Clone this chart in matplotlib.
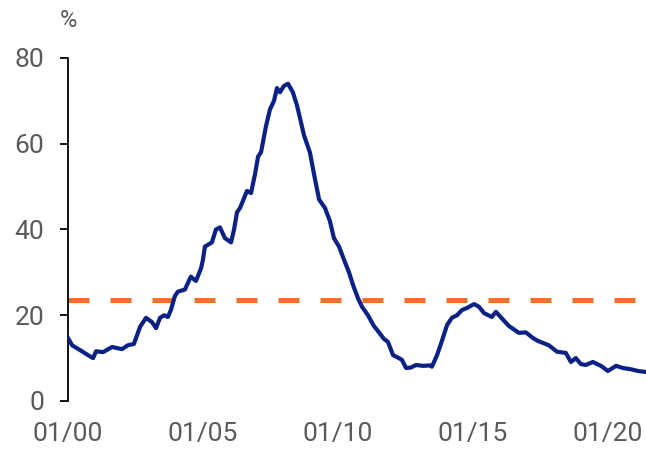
import matplotlib.pyplot as plt

# Share of series (%); dates as decimal years
dates = [2000.00, 2000.15, 2000.44, 2000.74, 2000.93, 2001.04, 2001.30, 2001.63, 2002.00,
         2002.22, 2002.44, 2002.67, 2002.89, 2003.11, 2003.26, 2003.41, 2003.56, 2003.70,
         2003.81, 2003.96, 2004.07, 2004.33, 2004.55, 2004.74, 2004.93, 2005.00, 2005.07,
         2005.33, 2005.48, 2005.63, 2005.81, 2006.04, 2006.15, 2006.26, 2006.37, 2006.63,
         2006.78, 2006.93, 2007.04, 2007.15, 2007.33, 2007.48, 2007.63, 2007.74, 2007.85,
         2008.00, 2008.15, 2008.33, 2008.48, 2008.63, 2008.74, 2008.96, 2009.11, 2009.30,
         2009.52, 2009.70, 2009.85, 2010.04, 2010.22, 2010.41, 2010.56, 2010.74, 2010.89,
         2011.11, 2011.33, 2011.52, 2011.70, 2011.85, 2012.04, 2012.26, 2012.37, 2012.52,
         2012.70, 2012.89, 2013.15, 2013.41, 2013.48, 2013.67, 2013.85, 2014.04, 2014.22,
         2014.41, 2014.59, 2014.78, 2015.04, 2015.22, 2015.41, 2015.70, 2015.85, 2016.11,
         2016.33, 2016.70, 2016.96, 2017.22, 2017.41, 2017.81, 2018.11, 2018.44, 2018.63,
         2018.81, 2019.00, 2019.18, 2019.44, 2019.74, 2020.00, 2020.30, 2020.55, 2020.85,
         2021.11, 2021.37]
share = [14.7, 13.0, 11.9, 10.7, 10.0, 11.6, 11.4, 12.6, 12.1,
         13.0, 13.3, 17.3, 19.4, 18.4, 17.0, 19.4, 20.0, 19.6,
         21.2, 24.5, 25.5, 26.0, 29.0, 28.0, 31.0, 33.0, 36.0,
         37.0, 40.0, 40.5, 38.0, 37.0, 40.0, 44.0, 45.0, 49.0,
         48.5, 53.0, 57.0, 58.0, 64.0, 68.0, 70.0, 73.0, 72.0,
         73.5, 74.0, 72.0, 69.0, 65.0, 62.0, 58.0, 53.0, 47.0,
         45.0, 42.0, 38.0, 36.0, 33.0, 30.0, 27.0, 24.0, 22.0,
         20.0, 17.5, 16.0, 14.5, 13.8, 10.7, 10.0, 9.6, 7.7,
         7.8, 8.4, 8.2, 8.3, 8.0, 10.7, 14.0, 17.7, 19.4,
         20.0, 21.2, 21.7, 22.6, 22.0, 20.5, 19.6, 20.8, 19.0,
         17.5, 15.9, 16.0, 14.7, 14.0, 13.0, 11.5, 11.2, 9.1,
         10.0, 8.6, 8.4, 9.1, 8.2, 7.0, 8.2, 7.7, 7.4,
         7.0, 6.8]
threshold = 23.5

year_ticks = [2000, 2005, 2010, 2015, 2020]
year_labels = ["01/00", "01/05", "01/10", "01/15", "01/20"]

plt.rcParams['font.family'] = ['Roboto', 'DejaVu Sans']

fig = plt.figure(figsize=(6.46, 4.5), dpi=100)
ax = fig.add_axes([68 / 646, 1 - 401 / 450, 1 - 68 / 646, (401 - 58) / 450])

ax.axhline(threshold, color="#F07028", linewidth=3.6, dashes=(4.2, 4.2),
           dash_capstyle="butt", zorder=2)
ax.plot(dates, share, color="#0B2183", linewidth=3.0, solid_joinstyle="round", zorder=3)

ax.set_xlim(2000, 2021.41)
ax.set_ylim(0, 80)
ax.set_yticks([0, 20, 40, 60, 80])
ax.set_xticks(year_ticks)
ax.set_xticklabels(year_labels)

for side in ["top", "right", "bottom"]:
    ax.spines[side].set_visible(False)
ax.spines["left"].set_linewidth(1.3)

ax.tick_params(axis="y", length=6, width=1.3, pad=11, labelsize=19, labelcolor="#5a5a5a")
ax.tick_params(axis="x", length=0, pad=15, labelsize=19, labelcolor="#5a5a5a")

ax.annotate("%", xy=(0, 1), xycoords="axes fraction", xytext=(0, 19),
            textcoords="offset points", ha="center", va="bottom",
            fontsize=17, color="#5a5a5a")

fig.savefig("out.png", dpi=100)
